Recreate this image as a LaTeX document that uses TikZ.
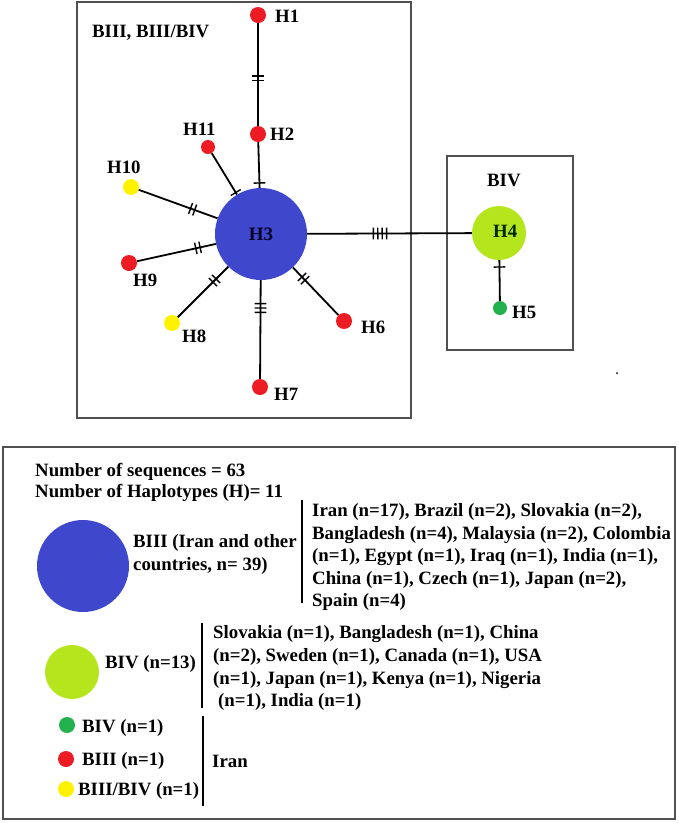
\documentclass[tikz,border=0pt]{standalone}
\usepackage{fontspec}
\setmainfont{Liberation Serif}
\usetikzlibrary{calc}
\definecolor{hblue}{HTML}{3F48CC}
\definecolor{hred}{HTML}{ED1C24}
\definecolor{hyellow}{HTML}{FFF200}
\definecolor{hlime}{HTML}{B5E61D}
\definecolor{hdgreen}{HTML}{22B14C}
\definecolor{boxgray}{HTML}{505050}
\tikzset{
  hap/.style={circle, inner sep=0pt, draw=none},
  small/.style={hap, minimum size=16pt},
  lab/.style={anchor=base west, inner sep=0pt, font=\fontsize{18.8}{23}\selectfont\bfseries},
  conn/.style={line width=1.8pt, black},
  tickmark/.style={line width=1.4pt, black},
  frame/.style={draw=boxgray, line width=1.3pt},
  bar/.style={line width=2.8pt, black},
}
\newcommand\hashmarks[4]{%
  \coordinate (hm) at ($(#1)!(#3)!(#2)$);
  \foreach \k in {1,...,#4} {
    \pgfmathsetmacro\off{(\k-(#4+1)/2)*4.4}
    \coordinate (hk) at ($(hm)!\off pt!(#2)$);
    \draw[tickmark] ($(hk)!5.8pt!90:(#2)$) -- ($(hk)!5.8pt!-90:(#2)$);
  }
}
\begin{document}
\begin{tikzpicture}[x=1pt,y=-1pt]
\useasboundingbox[fill=white] (0,0) rectangle (679,823);
% frames
\draw[frame] (77,2) rectangle (411,418);
\draw[frame] (447,156) rectangle (573,350);
\draw[frame] (3,447) rectangle (675,819);
% haplotype nodes
\node[hap, fill=hblue, minimum size=92pt, font=\fontsize{19}{23}\selectfont\bfseries, text=black!85!blue] (H3) at (261,234) {H3};
\node[small, fill=hred] (H1) at (258,15) {};
\node[small, fill=hred] (H2) at (258,134) {};
\node[hap, fill=hred, minimum size=14pt] (H11) at (208,147) {};
\node[small, fill=hyellow] (H10) at (131,187) {};
\node[small, fill=hred] (H9) at (129,263) {};
\node[small, fill=hyellow] (H8) at (172,323) {};
\node[small, fill=hred] (H7) at (260,387) {};
\node[small, fill=hred] (H6) at (344,321) {};
\node[hap, fill=hlime, minimum size=54pt] (H4) at (499,233) {};
\node[hap, fill=hdgreen, minimum size=14pt] (H5) at (500,308) {};
% connectors
\draw[conn] (H1) -- (H2);
\draw[conn] (H2) -- (H3);
\draw[conn] (H11) -- (H3);
\draw[conn] (H10) -- (H3);
\draw[conn] (H9) -- (H3);
\draw[conn] (H8) -- (H3);
\draw[conn] (H7) -- (H3);
\draw[conn] (H6) -- (H3);
\draw[conn] (H3) -- (H4);
\draw[conn] (H4) -- (H5);
% mutation ticks
\coordinate (t12) at (258,78);  \hashmarks{H1}{H2}{t12}{2}
\coordinate (t23) at (258,183); \hashmarks{H2}{H3}{t23}{1}
\coordinate (t113) at (235,193); \hashmarks{H11}{H3}{t113}{1}
\coordinate (t103) at (192,211); \hashmarks{H10}{H3}{t103}{2}
\coordinate (t93) at (198,248); \hashmarks{H9}{H3}{t93}{2}
\coordinate (t83) at (215,281); \hashmarks{H8}{H3}{t83}{2}
\coordinate (t73) at (260,308); \hashmarks{H7}{H3}{t73}{3}
\coordinate (t63) at (302,280); \hashmarks{H6}{H3}{t63}{2}
\coordinate (t34) at (380,233); \hashmarks{H3}{H4}{t34}{4}
\coordinate (t45) at (499,267); \hashmarks{H4}{H5}{t45}{1}
% labels
\node[lab] (gA) at (92,37) {BIII, BIII/BIV};
\node[lab] (gB) at (487,186) {BIV};
\node[lab] (L1) at (275,22) {H1};
\node[lab] (L2) at (270,140) {H2};
\node[lab] (L11) at (183,135) {H11};
\node[lab] (L10) at (107,173) {H10};
\node[lab] (L9) at (133,286) {H9};
\node[lab] (L8) at (182,342) {H8};
\node[lab] (L7) at (274,400) {H7};
\node[lab] (L6) at (361,333) {H6};
\node[lab, text=black!85!green] (L4) at (493,237) {H4};
\node[lab] (L5) at (512,318) {H5};
\node[hap, fill=black, minimum size=2pt] (dot) at (617,373) {};
% legend
\node[lab] (n1) at (35,476) {Number of sequences = 63};
\node[lab] (n2) at (35,497) {Number of Haplotypes (H)= 11};
\node[hap, fill=hblue, minimum size=92pt] (kB) at (83,566) {};
\node[lab] (kB1) at (133,547) {BIII (Iran and other};
\node[lab] (kB2) at (133,570) {countries, n= 39)};
\draw[bar] (302,500) coordinate (b1a) -- (302,603) coordinate (b1b);
\node[lab] (c1) at (312,516) {Iran (n=17), Brazil (n=2), Slovakia (n=2),};
\node[lab] (c2) at (312,539) {Bangladesh (n=4), Malaysia (n=2), Colombia};
\node[lab] (c3) at (312,561) {(n=1), Egypt (n=1), Iraq (n=1), India (n=1),};
\node[lab] (c4) at (312,584) {China (n=1), Czech (n=1), Japan (n=2),};
\node[lab] (c5) at (312,606) {Spain (n=4)};
\node[hap, fill=hlime, minimum size=54pt] (kL) at (72,672) {};
\node[lab] (kL1) at (105,668) {BIV (n=13)};
\draw[bar] (202,623) coordinate (b2a) -- (202,708) coordinate (b2b);
\node[lab] (d1) at (213,638) {Slovakia (n=1), Bangladesh (n=1), China};
\node[lab] (d2) at (213,661) {(n=2), Sweden (n=1), Canada (n=1), USA};
\node[lab] (d3) at (213,684) {(n=1), Japan (n=1), Kenya (n=1), Nigeria};
\node[lab] (d4) at (218,706) {(n=1), India (n=1)};
\node[small, fill=hdgreen] (kG) at (67,725) {};
\node[small, fill=hred] (kR) at (66,759) {};
\node[small, fill=hyellow] (kY) at (66,789) {};
\node[lab] (kG1) at (82,732) {BIV (n=1)};
\node[lab] (kR1) at (82,765) {BIII (n=1)};
\node[lab] (kY1) at (78,795) {BIII/BIV (n=1)};
\draw[bar] (203,716) coordinate (b3a) -- (203,806) coordinate (b3b);
\node[lab] (ir) at (212,767) {Iran};
\end{tikzpicture}
\end{document}
